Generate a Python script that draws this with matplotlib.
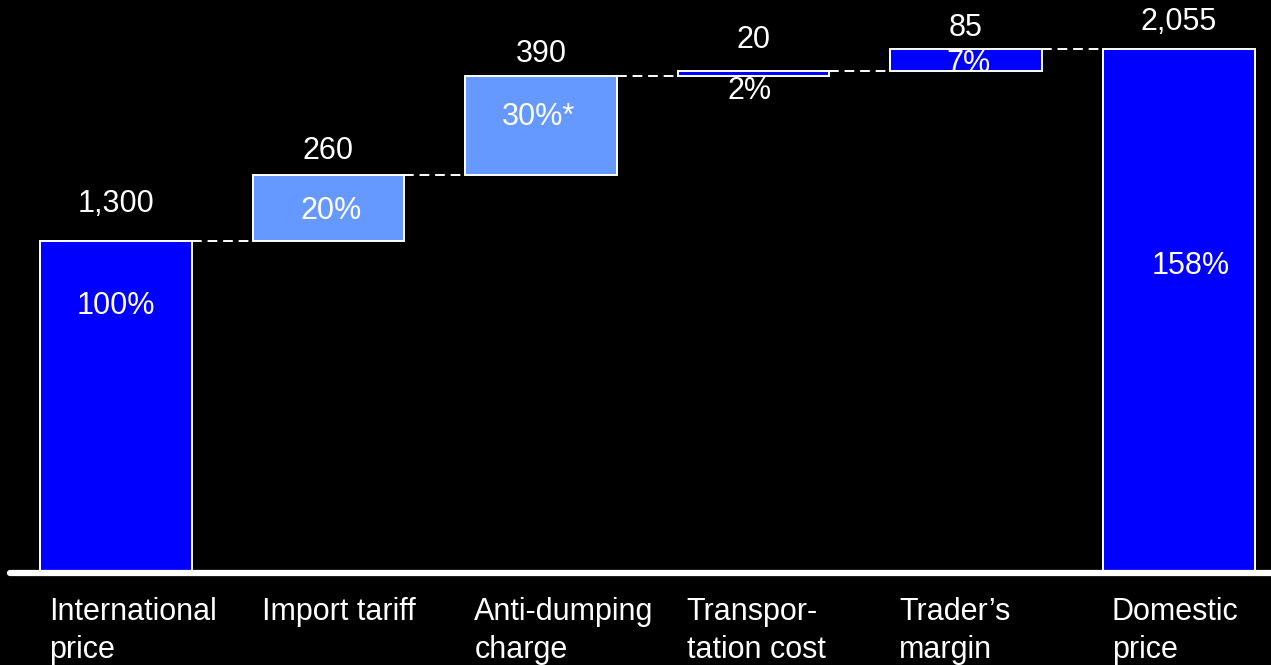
import matplotlib
matplotlib.use("Agg")
import matplotlib.pyplot as plt

plt.rcParams['font.family'] = ['Liberation Sans', 'DejaVu Sans']

categories = ["International\nprice", "Import tariff", "Anti-dumping\ncharge",
              "Transpor-\ntation cost", "Trader\u2019s\nmargin", "Domestic\nprice"]
values = [1300, 260, 390, 20, 85, 2055]
is_total = [True, False, False, False, False, True]
value_labels = ["1,300", "260", "390", "20", "85", "2,055"]
pct_labels = ["100%", "20%", "30%*", "2%", "7%", "158%"]
bar_colors = ["#0000FF", "#6699FF", "#6699FF", "#0000FF", "#0000FF", "#0000FF"]

# label placement (baseline offsets in points)
value_offsets = [21, 12, 10, 16, 9.5, 14]
pct_offsets = [(0, -52), (2, -7.5), (-2, 0), (-3, -16.5), (1.5, -8.6), (8.6, -162)]
pct_anchor = ["top", "mid", "mid", "bottom", "mid", "top"]

W, H = 1271, 665
BASE = 573
fig = plt.figure(figsize=(W / 100, H / 100), dpi=100, facecolor="black")
ax = fig.add_axes([8 / W, (H - BASE) / H, 1 - 8 / W, BASE / H])
ax.set_facecolor("black")

x = list(range(len(values)))
bottoms, tops = [], []
running = 0
for v, tot in zip(values, is_total):
    if tot:
        b = 0
        running = v
    else:
        b = running
        running += v
    bottoms.append(b)
    tops.append(b + v)

width = 0.715
# fills, then outlines drawn on top of the labels
ax.bar(x, values, bottom=bottoms, width=width, color=bar_colors,
       linewidth=0, zorder=3)
ax.bar(x, values, bottom=bottoms, width=width, facecolor="none",
       edgecolor="white", linewidth=1.4, zorder=5)

# dashed connectors between consecutive bars
for i in range(len(values) - 1):
    level = tops[i]
    ax.plot([x[i] + width / 2, x[i + 1] - width / 2], [level, level],
            color="white", linestyle=(0, (5, 3)), linewidth=1.4, zorder=2)

# value labels above bars
for i, lab in enumerate(value_labels):
    ax.annotate(lab, xy=(x[i], tops[i]), xytext=(0, value_offsets[i]),
                textcoords="offset points", ha="center", va="baseline",
                color="white", fontsize=22)

# percentage labels
for i, lab in enumerate(pct_labels):
    if pct_anchor[i] == "mid":
        y = (bottoms[i] + tops[i]) / 2
    elif pct_anchor[i] == "top":
        y = tops[i]
    else:
        y = bottoms[i]
    dx, dy = pct_offsets[i]
    ax.annotate(lab, xy=(x[i], y), xytext=(dx, dy), textcoords="offset points",
                ha="center", va="baseline", color="white", fontsize=22, zorder=4)

# category labels under the baseline
for i, lab in enumerate(categories):
    ax.annotate(lab, xy=(x[i], 0), xytext=(-48, -17.5), textcoords="offset points",
                ha="left", va="top", color="white", fontsize=22,
                linespacing=1.32, annotation_clip=False)

# baseline
ax.plot([-0.5, 5.44], [0, 0], color="white", linewidth=4.5,
        solid_capstyle="round", zorder=6, clip_on=False)

ax.set_xlim(-0.508, 5.435)
ax.set_ylim(0, 2247)
ax.axis("off")

fig.savefig("out.png", dpi=100, facecolor="black")
